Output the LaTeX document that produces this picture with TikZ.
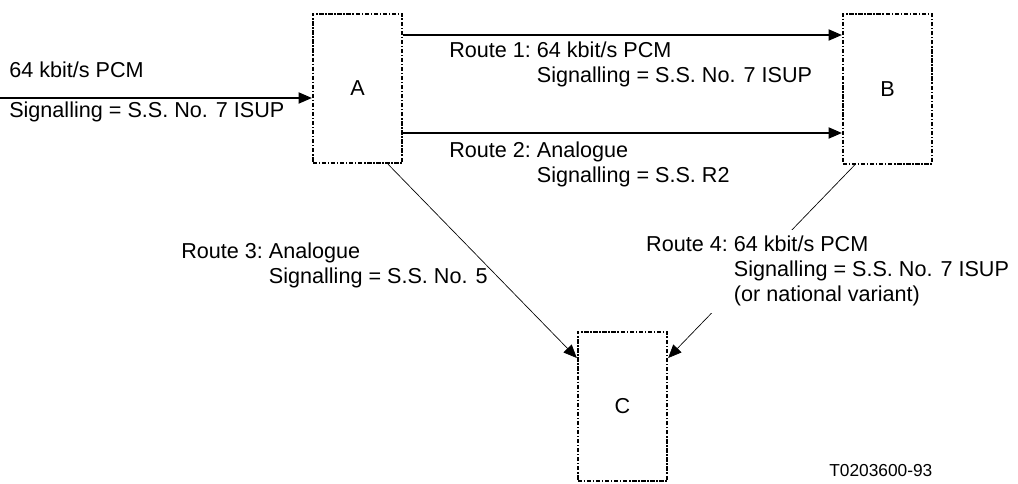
\documentclass[tikz,border=0pt]{standalone}
\usepackage{fontspec}
\setmainfont{Liberation Sans}
\usetikzlibrary{arrows.meta}

\tikzset{
  exch/.style={draw, line width=1.5pt, dash pattern=on 3.2pt off 1.3pt on 1pt off 1.3pt,
    minimum width=67pt, minimum height=112pt, inner sep=0pt, font=\fontsize{16.2}{18.5}\selectfont},
  route/.style={line width=0.8pt, -{Triangle[length=10pt,width=8.5pt]}},
  diag/.style={line width=0.5pt, -{Triangle[length=10pt,width=8.5pt]}},
  lbl/.style={anchor=base west, inner sep=0pt, font=\fontsize{16.2}{18.5}\selectfont}
}

\begin{document}
\begin{tikzpicture}[x=0.75pt,y=-0.75pt]
\useasboundingbox (0,0) rectangle (1018,484);
% exchanges
\node[exch] (A) at (357.5,88.5) {A};
\node[exch] (B) at (887.5,89) {B};
\node[exch] (C) at (622.5,406.5) {C};

% helper points
\coordinate (in) at (0,98);
\coordinate (r1) at (0,35);
\coordinate (r2) at (0,133);
\coordinate (r3) at (388,0);
\coordinate (r4) at (855,0);
\coordinate (rc) at (0,358);

% incoming to A
\draw[route] (in) -- (A.west |- in);
\node[lbl] (inpcm) at (9,78) {64 kbit/s PCM};
\node[lbl] (insig) at (9,118) {Signalling = S.S. No. 7 ISUP};

% routes A-B
\draw[route] (A.east |- r1) -- (B.west |- r1);
\draw[route] (A.east |- r2) -- (B.west |- r2);
\node[lbl] (lab1) at (449,58) {\begin{tabular}[t]{@{}l@{~}l@{}}Route 1:&64 kbit/s PCM\\ &Signalling = S.S. No. 7 ISUP\end{tabular}};
\node[lbl] (lab2) at (449,158) {\begin{tabular}[t]{@{}l@{~}l@{}}Route 2:&Analogue\\ &Signalling = S.S. R2\end{tabular}};

% routes to C
\draw[diag] (A.south -| r3) -- (C.west |- rc);
\draw[diag] (B.south -| r4) -- (C.east |- rc);
\node[lbl] (lab3) at (181,259) {\begin{tabular}[t]{@{}l@{~}l@{}}Route 3:&Analogue\\ &Signalling = S.S. No. 5\end{tabular}};
\node[lbl, fill=white, inner sep=3.5pt] (lab4) at (641.3,252) {\begin{tabular}[t]{@{}l@{~}l@{}}Route 4:&64 kbit/s PCM\\ &Signalling = S.S. No. 7 ISUP\\ &(or national variant)\end{tabular}};

\node[lbl, font=\fontsize{13}{15}\selectfont] (fig) at (829,477) {T0203600-93};
\end{tikzpicture}
\end{document}
